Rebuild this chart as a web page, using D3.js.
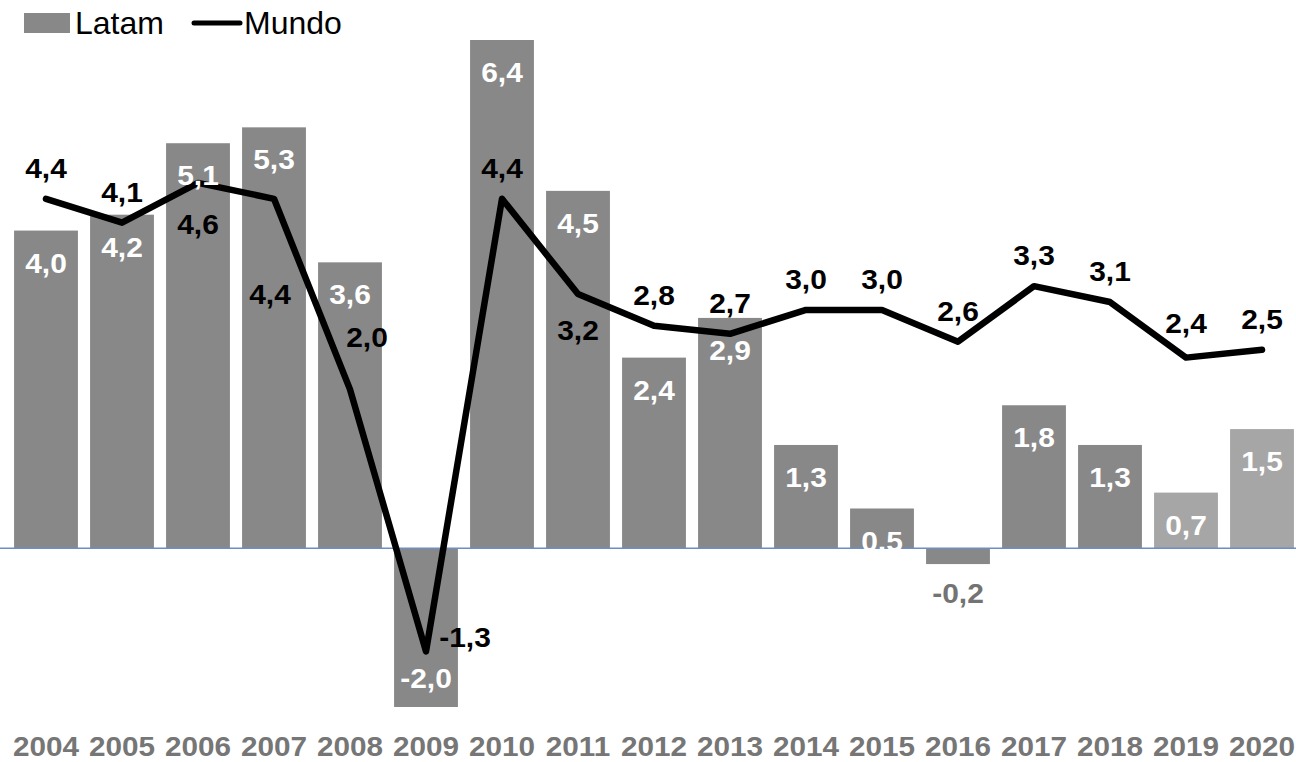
<!DOCTYPE html>
<html>
<head>
<meta charset="utf-8">
<script src="https://cdn.jsdelivr.net/npm/d3@7"></script>
<style>
  html, body { margin: 0; padding: 0; background: #fff; }
  svg { display: block; font-family: "Liberation Sans", Arial, sans-serif; }
</style>
</head>
<body>
<svg id="chart" width="1296" height="762"></svg>
<script>
// ---- data ----
const years = ["2004","2005","2006","2007","2008","2009","2010","2011","2012","2013","2014","2015","2016","2017","2018","2019","2020"];
const latam = [4.0, 4.2, 5.1, 5.3, 3.6, -2.0, 6.4, 4.5, 2.4, 2.9, 1.3, 0.5, -0.2, 1.8, 1.3, 0.7, 1.5];
const mundo = [4.4, 4.1, 4.6, 4.4, 2.0, -1.3, 4.4, 3.2, 2.8, 2.7, 3.0, 3.0, 2.6, 3.3, 3.1, 2.4, 2.5];
const projectedYears = ["2019", "2020"];
const seriesNames = ["Latam", "Mundo"];

// ---- layout ----
const W = 1296, H = 762;
const svg = d3.select("#chart");
const fmt = v => v.toFixed(1).replace(".", ",");

const x = d3.scaleBand().domain(years).range([8, 1300]).paddingInner(0.16).paddingOuter(0.08);
const y = d3.scaleLinear().domain([-2.0, 6.4]).range([707, 40]);

const barColor = "#888888", barColorLight = "#a6a6a6";

// bars
svg.append("g").selectAll("rect").data(years).join("rect")
  .attr("x", d => x(d))
  .attr("width", x.bandwidth())
  .attr("y", (d, i) => Math.min(y(latam[i]), y(0)))
  .attr("height", (d, i) => Math.abs(y(latam[i]) - y(0)))
  .attr("fill", d => projectedYears.includes(d) ? barColorLight : barColor);

// zero line
svg.append("line")
  .attr("x1", 0).attr("x2", W)
  .attr("y1", y(0)).attr("y2", y(0))
  .attr("stroke", "#6b8fc6").attr("stroke-width", 1.5);

// Mundo line
const cx = d => x(d) + x.bandwidth() / 2;
const line = d3.line().x((d, i) => cx(years[i])).y(d => y(d));
svg.append("path").datum(mundo)
  .attr("d", line)
  .attr("fill", "none")
  .attr("stroke", "#000")
  .attr("stroke-width", 6.5)
  .attr("stroke-linejoin", "round")
  .attr("stroke-linecap", "round");

// label helper (text slightly widened to match reference)
function label(g, txt, px, cy, color, size, sx) {
  g.append("text")
    .attr("transform", `translate(${px},${cy + size * 0.36}) scale(${sx},1)`)
    .attr("text-anchor", "middle")
    .attr("font-size", size)
    .attr("font-weight", "bold")
    .attr("fill", color)
    .text(txt);
}

// Latam labels
const gl = svg.append("g");
latam.forEach((v, i) => {
  const px = cx(years[i]);
  if (v >= 0) {
    label(gl, fmt(v), px, y(v) + 32, "#ffffff", 28, 1.07);
  } else if (Math.abs(y(v) - y(0)) > 60) {
    label(gl, fmt(v), px, y(v) - 29, "#ffffff", 28, 1.07);
  } else {
    label(gl, fmt(v), px, y(v) + 29, "#737373", 28, 1.07);
  }
});

// Mundo labels with per-year placement nudges
const mundoNudge = {
  "2006": [0, 41], "2007": [-4, 95], "2008": [17, -52], "2009": [39, -14],
  "2011": [0, 36], "2019": [0, -35]
};
const gm = svg.append("g");
mundo.forEach((v, i) => {
  const n = mundoNudge[years[i]] || [0, -31];
  label(gm, fmt(v), cx(years[i]) + n[0], y(v) + n[1], "#000000", 28, 1.07);
});

// x axis tick labels
const gx = svg.append("g");
years.forEach(yr => {
  label(gx, yr, cx(yr), 746, "#767676", 27, 1.1);
});

// legend
const lg = svg.append("g");
lg.append("rect").attr("x", 24).attr("y", 13).attr("width", 46).attr("height", 20).attr("fill", barColor);
lg.append("text").attr("x", 75).attr("y", 34).attr("font-size", 32).attr("fill", "#000").text(seriesNames[0]);
lg.append("line").attr("x1", 194).attr("x2", 240).attr("y1", 23).attr("y2", 23)
  .attr("stroke", "#000").attr("stroke-width", 5).attr("stroke-linecap", "round");
lg.append("text").attr("x", 244).attr("y", 34).attr("font-size", 32).attr("fill", "#000").text(seriesNames[1]);
</script>
</body>
</html>
